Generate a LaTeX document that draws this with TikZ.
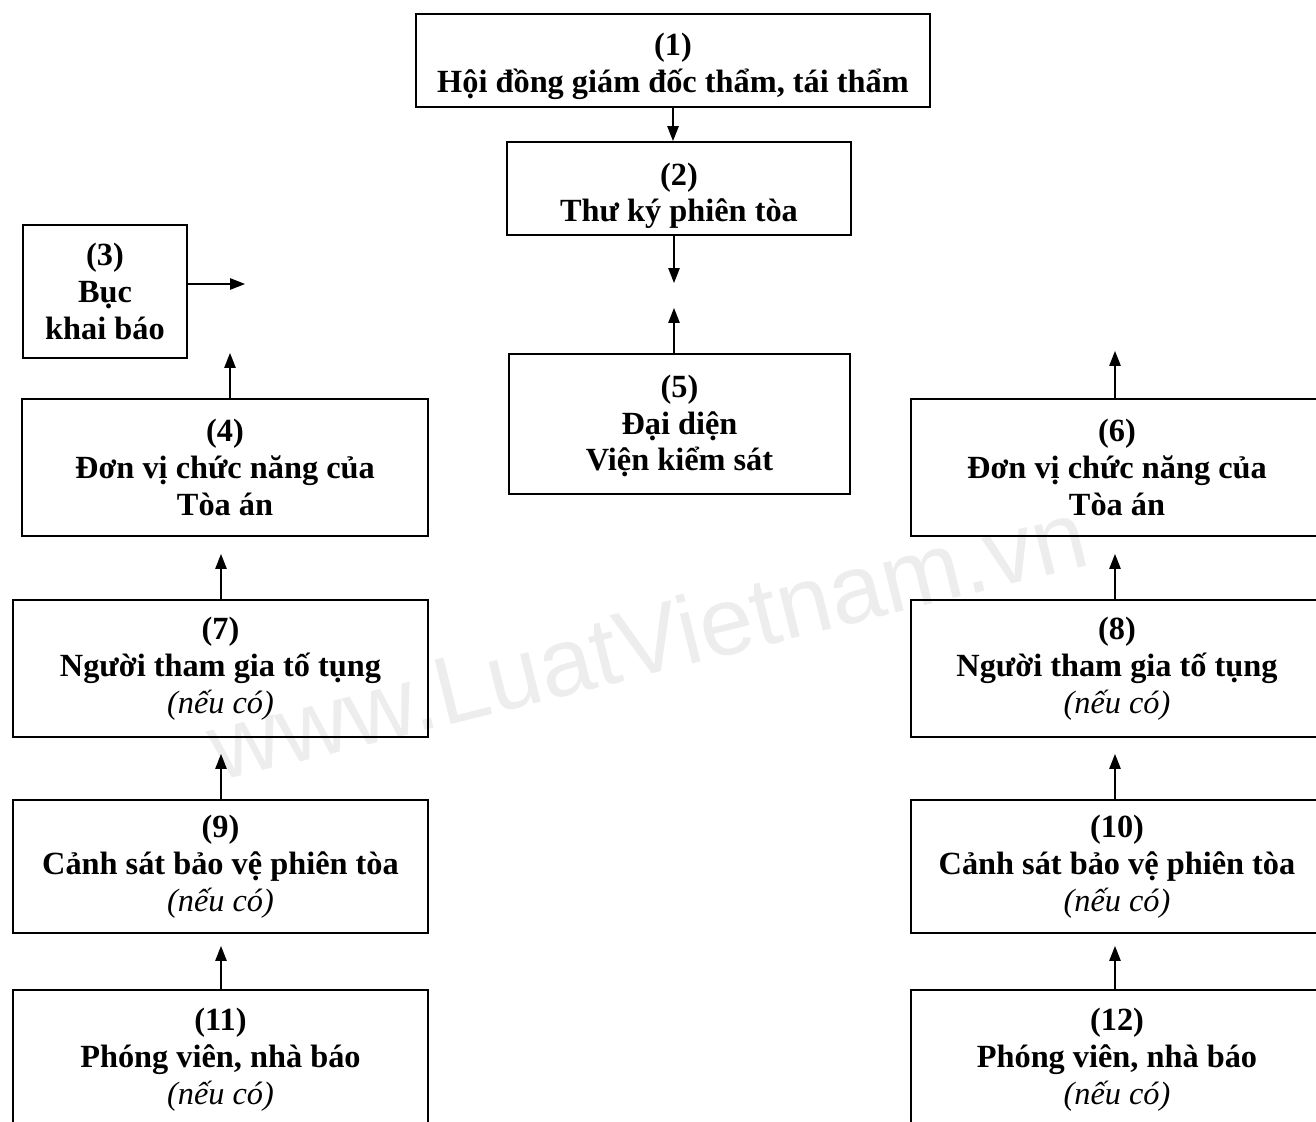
\documentclass[tikz,border=0pt]{standalone}
\usepackage{fontspec}
\setmainfont{Liberation Serif}
\newfontfamily\wmfont{Liberation Sans}
\usetikzlibrary{positioning,arrows.meta}

\begin{document}
\begin{tikzpicture}[y=-1cm,
		box/.style={draw,line width=1.1pt,align=center,inner sep=0pt,font=\fontsize{18.4}{21}\selectfont\bfseries},
		arr/.style={line width=0.8pt,-{Triangle[length=8.5pt,width=6.5pt]}}]
		\useasboundingbox (0,0) rectangle (26.32,22.44);
		\node[rotate=14,anchor=base,text=black!7,font=\wmfont\fontsize{55}{55}\selectfont] (wm) at (13.12,13.46) {www.LuatVietnam.vn};
		\node[box,minimum width=10.28cm,minimum height=1.86cm] (b1) at (13.46,1.21) {\rule{0pt}{19pt}(1)\\Hội đồng giám đốc thẩm, tái thẩm};
		\node[box,minimum width=6.88cm,minimum height=1.86cm] (b2) at (13.58,3.77) {\rule{0pt}{21pt}(2)\\Thư ký phiên tòa};
		\node[box,minimum width=3.28cm,minimum height=2.66cm] (b3) at (2.10,5.83) {(3)\\Bục\\khai báo};
		\node[box,minimum width=8.12cm,minimum height=2.74cm] (b4) at (4.50,9.35) {(4)\\Đơn vị chức năng của\\Tòa án};
		\node[box,minimum width=6.82cm,minimum height=2.80cm] (b5) at (13.59,8.48) {\rule{0pt}{15pt}(5)\\Đại diện\\Viện kiểm sát};
		\node[box,minimum width=8.24cm,minimum height=2.74cm] (b6) at (22.34,9.35) {(6)\\Đơn vị chức năng của\\Tòa án};
		\node[box,minimum width=8.30cm,minimum height=2.74cm] (b7) at (4.41,13.37) {(7)\\Người tham gia tố tụng\\{\mdseries\itshape (nếu có)}};
		\node[box,minimum width=8.24cm,minimum height=2.74cm] (b8) at (22.34,13.37) {(8)\\Người tham gia tố tụng\\{\mdseries\itshape (nếu có)}};
		\node[box,minimum width=8.30cm,minimum height=2.66cm] (b9) at (4.41,17.33) {(9)\\Cảnh sát bảo vệ phiên tòa\\{\mdseries\itshape (nếu có)}};
		\node[box,minimum width=8.24cm,minimum height=2.66cm] (b10) at (22.34,17.33) {(10)\\Cảnh sát bảo vệ phiên tòa\\{\mdseries\itshape (nếu có)}};
		\node[box,minimum width=8.30cm,minimum height=2.80cm] (b11) at (4.41,21.20) {(11)\\Phóng viên, nhà báo\\{\mdseries\itshape (nếu có)}};
		\node[box,minimum width=8.24cm,minimum height=2.80cm] (b12) at (22.34,21.20) {(12)\\Phóng viên, nhà báo\\{\mdseries\itshape (nếu có)}};
		\coordinate (p2) at (13.48,5.66);
		\coordinate (p5) at (13.48,6.16);
		\coordinate (p3) at (4.90,5.68);
		\coordinate (p4) at (4.60,7.06);
		\coordinate (p6) at (22.30,7.02);
		\coordinate (p7) at (4.42,11.08);
		\coordinate (p9) at (4.42,15.08);
		\coordinate (p11) at (4.42,18.92);
		\coordinate (p8) at (22.30,11.08);
		\coordinate (p10) at (22.30,15.08);
		\coordinate (p12) at (22.30,18.92);
		\draw[arr](b1.south)--(b1.south|-b2.north);
		\draw[arr](b2.south-|p2)--(p2);
		\draw[arr](b5.north-|p5)--(p5);
		\draw[arr](b3.east|-p3)--(p3);
		\draw[arr](b4.north-|p4)--(p4);
		\draw[arr](b6.north-|p6)--(p6);
		\draw[arr](b7.north-|p7)--(p7);
		\draw[arr](b9.north-|p9)--(p9);
		\draw[arr](b11.north-|p11)--(p11);
		\draw[arr](b8.north-|p8)--(p8);
		\draw[arr](b10.north-|p10)--(p10);
		\draw[arr](b12.north-|p12)--(p12);
	\end{tikzpicture}
\end{document}
